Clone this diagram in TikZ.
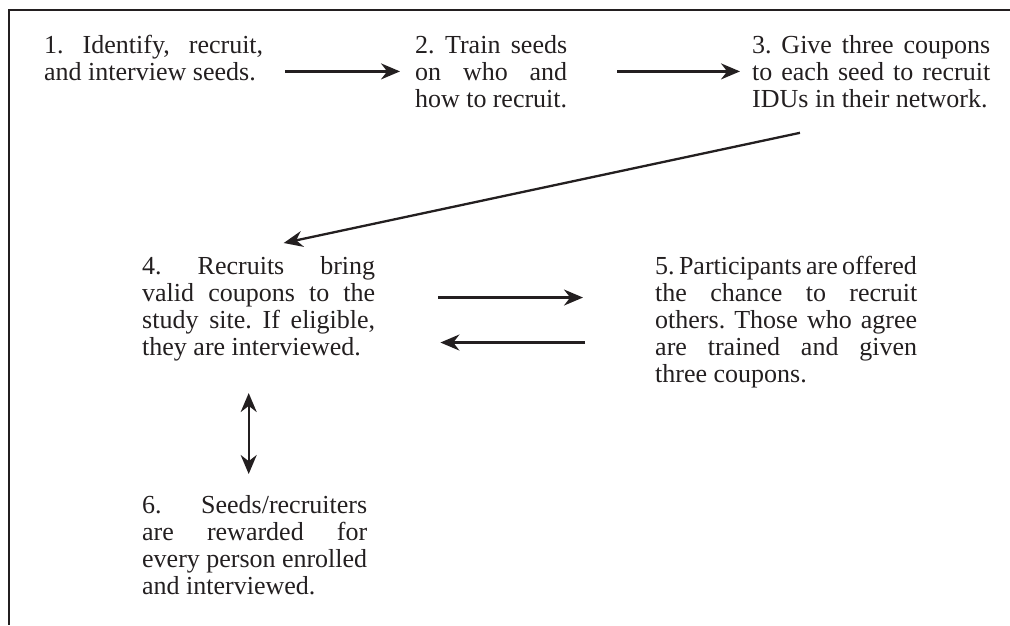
\documentclass[tikz,border=0pt]{standalone}
\usepackage{fontspec}
\setmainfont{Liberation Serif}
\usetikzlibrary{arrows.meta,calc}
\definecolor{ink}{RGB}{35,31,32}
\setlength{\parindent}{0pt}
\frenchspacing

\begin{document}
\begin{tikzpicture}[x=1pt,y=-1pt,
    stage/.style={anchor=north west,inner sep=0pt,align=justify,text=ink,
      font=\fontsize{26pt}{27pt}\selectfont},
    flow/.style={-{Stealth[length=19pt,width=16pt]},line width=2.3pt,draw=ink},
    twoway/.style={{Stealth[length=19pt,width=16pt]}-{Stealth[length=19pt,width=16pt]},line width=2.3pt,draw=ink},
    frame/.style={line width=2.6pt,draw=ink}]
  \useasboundingbox (0,0) rectangle (1010,625);
  \draw[frame] (1010,10) -- (9,10) -- (9,625);

  % the six stages
  \node[stage,text width=219pt] (s1) at (44,35)
    {1. Identify, recruit,\linebreak and interview seeds.};
  \node[stage,text width=152pt] (s2) at (415,35)
    {2. Train seeds\linebreak on who and\linebreak how to recruit.};
  \node[stage,text width=238pt] (s3) at (752,35)
    {3. Give three coupons\linebreak to each seed to recruit\linebreak IDUs in their network.};
  \node[stage,text width=233pt] (s4) at (142,256)
    {4. Recruits bring\linebreak valid coupons to the\linebreak study site. If eligible,\linebreak they are interviewed.};
  \node[stage,text width=262pt] (s5) at (655,256)
    {5.\,Participants\,are\,offered\linebreak the chance to recruit\linebreak others. Those who agree\linebreak are trained and given\linebreak three coupons.};
  \node[stage,text width=225pt] (s6) at (142,495)
    {6. Seeds/recruiters\linebreak are rewarded for\linebreak every person enrolled\linebreak and interviewed.};

  % connectors
  \draw[flow,shorten <=22pt,shorten >=15pt] (s1.east |- s2.west) -- (s2.west);
  \draw[flow,shorten <=50pt,shorten >=12pt] (s2.east |- s3.west) -- (s3.west);
  \draw[flow] ($(s3.south west)+(48pt,-25pt)$) -- ($(s4.north)+(25pt,13pt)$);
  \draw[flow] ($(s4.east)+(63pt,11pt)$) -- ($(s4.east -| s5.west)+(-72pt,11pt)$);
  \draw[flow] ($(s4.east -| s5.west)+(-70pt,-34pt)$) -- ($(s4.east)+(65pt,-34pt)$);
  \draw[twoway] ($(s4.south)+(-10pt,-32pt)$) -- ($(s4.south |- s6.north)+(-10pt,21pt)$);
\end{tikzpicture}
\end{document}
